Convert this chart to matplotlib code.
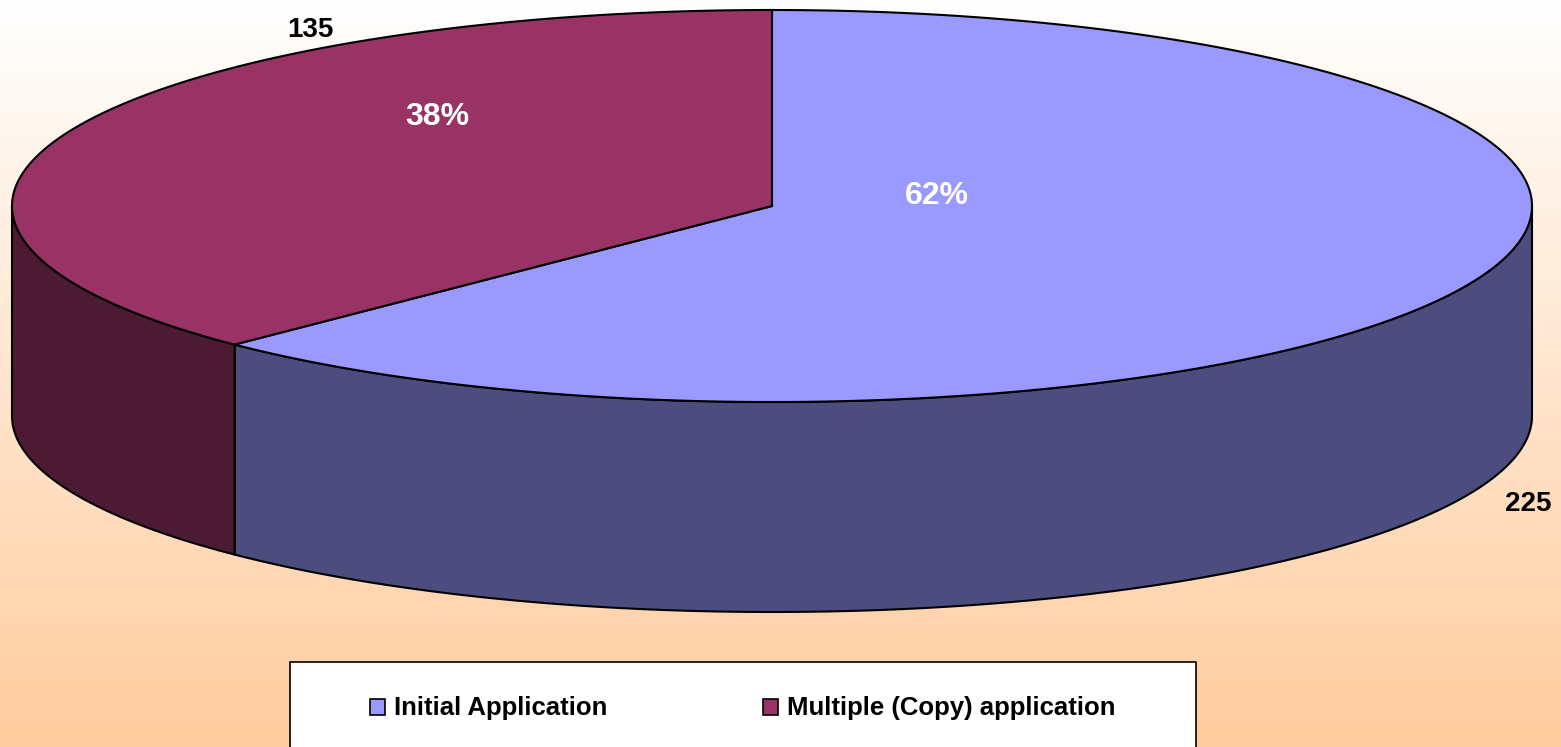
import numpy as np
import matplotlib
matplotlib.use('Agg')
from matplotlib import pyplot as plt
from matplotlib.patches import Polygon, Rectangle

categories = ['Initial Application', 'Multiple (Copy) application']
values = [225, 135]
top_colors = ['#9999FF', '#993366']
side_colors = ['#4C4C7F', '#4C1A33']

W, H = 1561, 747
cx, cy = 772, 206      # centre of the top ellipse (pixels)
rx, ry = 760, 196      # ellipse semi-axes
depth = 210            # thickness of the pie

plt.rcParams['font.family'] = ['Liberation Sans', 'DejaVu Sans']

fig = plt.figure(figsize=(W / 100, H / 100), dpi=100)
ax = fig.add_axes([0, 0, 1, 1])
ax.set_xlim(0, W)
ax.set_ylim(H, 0)
ax.axis('off')

# background: white at top to peach at bottom
grad = np.linspace(0, 1, 256)[:, None]
top = np.array([1.0, 1.0, 1.0])
bot = np.array([1.0, 0.80, 0.62])
img = top + (bot - top) * grad[..., None]
img = np.repeat(img, 2, axis=1)
ax.imshow(img, extent=[0, W, H, 0], aspect='auto', zorder=0)


def pt(theta, dz=0.0):
    return cx + rx * np.cos(theta), cy - ry * np.sin(theta) + dz


# slices go clockwise starting at 12 o'clock
total = sum(values)
start = 90.0
spans = []
for v in values:
    sweep = 360.0 * v / total
    spans.append((start - sweep, start))
    start -= sweep

# side walls (only the front half, math angles 180..360)
for (a0, a1), col in zip(spans, side_colors):
    lo, hi = a0 % 360, a1 % 360
    if hi <= lo:
        hi += 360
    segs = []
    for off in (0, 360):
        s, e = max(lo, 180 + off), min(hi, 360 + off)
        if e > s:
            segs.append((s, e))
    for s, e in segs:
        th = np.radians(np.linspace(s, e, 200))
        x, y = pt(th)
        xb, yb = pt(th[::-1], depth)
        poly = np.column_stack([np.r_[x, xb], np.r_[y, yb]])
        ax.add_patch(Polygon(poly, closed=True, fc=col, ec='black', lw=1.5, zorder=2))

# top faces
for (a0, a1), col in zip(spans, top_colors):
    th = np.radians(np.linspace(a0, a1, 300))
    x, y = pt(th)
    poly = np.column_stack([np.r_[cx, x], np.r_[cy, y]])
    ax.add_patch(Polygon(poly, closed=True, fc=col, ec='black', lw=1.5, zorder=3))

# labels
pct = [f'{round(100 * v / total)}%' for v in values]
pct_pos = [(937, 196), (437, 117)]
val_pos = [(1528, 504), (310, 30)]
for p, vp, t, v in zip(pct_pos, val_pos, pct, values):
    ax.text(p[0], p[1], t, color='white', fontsize=23, fontweight='bold',
            ha='center', va='center', zorder=5)
    ax.text(vp[0], vp[1], str(v), color='black', fontsize=20, fontweight='bold',
            ha='center', va='center', zorder=5)

# legend box
ax.add_patch(Rectangle((290, 662), 906, 120, fc='white', ec='black', lw=1.2, zorder=4))
leg_x = [370, 763]
for lx, name, col in zip(leg_x, categories, top_colors):
    ax.add_patch(Rectangle((lx, 699), 15, 16, fc=col, ec='black', lw=1.2, zorder=5))
    ax.text(lx + 24, 708, name, fontsize=18.5, fontweight='bold', ha='left',
            va='center', zorder=5)

fig.savefig('out.png', dpi=100)
